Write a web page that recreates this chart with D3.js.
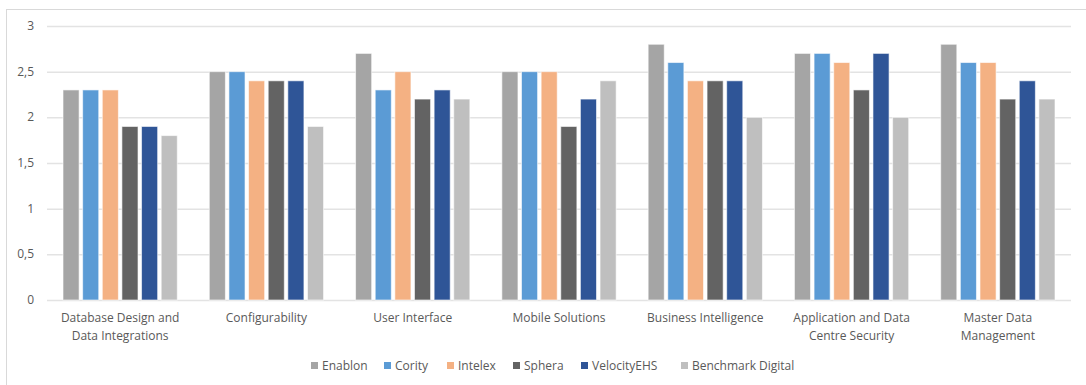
<!DOCTYPE html>
<html lang="en">
<head>
<meta charset="utf-8">
<title>EHS vendor scores</title>
<script src="https://d3js.org/d3.v7.min.js"></script>
<style>
    body { margin: 0; background: #fff; font-family: 'Open Sans', sans-serif; }
    svg text { fill: #595959; font-size: 12px; }
</style>
</head>
<body>
<div id="chart"></div>
<script>
// categories and series
var categories = [
    ["Database Design and", "Data Integrations"],
    ["Configurability"],
    ["User Interface"],
    ["Mobile Solutions"],
    ["Business Intelligence"],
    ["Application and Data", "Centre Security"],
    ["Master Data", "Management"]
];
var seriesNames = ["Enablon", "Cority", "Intelex", "Sphera", "VelocityEHS", "Benchmark Digital"];
var seriesColors = ["#a5a5a5", "#5b9bd5", "#f4b183", "#636363", "#2f5597", "#bfbfbf"];

var enablon    = [2.3, 2.5, 2.7, 2.5, 2.8, 2.7, 2.8];
var cority     = [2.3, 2.5, 2.3, 2.5, 2.6, 2.7, 2.6];
var intelex    = [2.3, 2.4, 2.5, 2.5, 2.4, 2.6, 2.6];
var sphera     = [1.9, 2.4, 2.2, 1.9, 2.4, 2.3, 2.2];
var velocity   = [1.9, 2.4, 2.3, 2.2, 2.4, 2.7, 2.4];
var benchmark  = [1.8, 1.9, 2.2, 2.4, 2.0, 2.0, 2.2];
var seriesValues = [enablon, cority, intelex, sphera, velocity, benchmark];

var yTicks = [0, 0.5, 1, 1.5, 2, 2.5, 3];

var W = 1086, H = 385;
var plot = {left: 47, right: 1071, top: 26, bottom: 300};

var svg = d3.select("#chart").append("svg")
    .attr("width", W).attr("height", H);

// outer chart border
svg.append("rect")
    .attr("x", 6.5).attr("y", 9.5)
    .attr("width", W).attr("height", H)
    .attr("fill", "none").attr("stroke", "#d9d9d9");

var y = d3.scaleLinear().domain([0, 3]).range([plot.bottom, plot.top]);

var x0 = d3.scaleBand()
    .domain(d3.range(categories.length))
    .range([plot.left, plot.right]);

var x1 = d3.scaleBand()
    .domain(d3.range(seriesNames.length))
    .range([16, x0.bandwidth() - 16])
    .paddingInner(0.18);

// gridlines
svg.append("g").selectAll("line")
    .data(yTicks)
    .enter().append("line")
    .attr("x1", plot.left).attr("x2", plot.right)
    .attr("y1", function(d) { return y(d) + 0.5; })
    .attr("y2", function(d) { return y(d) + 0.5; })
    .attr("stroke", "#e3e3e3")
    .attr("stroke-width", 1.5);

// y tick labels
svg.append("g").selectAll("text")
    .data(yTicks)
    .enter().append("text")
    .attr("x", 34)
    .attr("y", function(d) { return y(d) + 4; })
    .attr("text-anchor", "end")
    .text(function(d) { return String(d).replace(".", ","); });

// bars
var groups = svg.append("g").selectAll("g")
    .data(categories)
    .enter().append("g")
    .attr("transform", function(d, i) { return "translate(" + x0(i) + ",0)"; });

groups.selectAll("rect")
    .data(function(d, i) { return seriesValues.map(function(s, k) { return {k: k, v: s[i]}; }); })
    .enter().append("rect")
    .attr("x", function(d) { return x1(d.k); })
    .attr("y", function(d) { return y(d.v); })
    .attr("width", x1.bandwidth())
    .attr("height", function(d) { return y(0) - y(d.v); })
    .attr("fill", function(d) { return seriesColors[d.k]; })
    .attr("stroke", "#fff")
    .attr("stroke-opacity", 0.6)
    .attr("stroke-width", 1);

// category labels
groups.append("text")
    .attr("text-anchor", "middle")
    .attr("x", x0.bandwidth() / 2)
    .attr("y", 322)
    .selectAll("tspan")
    .data(function(d) { return d; })
    .enter().append("tspan")
    .attr("x", x0.bandwidth() / 2)
    .attr("dy", function(d, i) { return i === 0 ? 0 : 18; })
    .text(function(d) { return d; });

// legend
var legendX = [311, 384, 447, 513, 581, 681];
var legend = svg.append("g").selectAll("g")
    .data(seriesNames)
    .enter().append("g")
    .attr("transform", function(d, i) { return "translate(" + legendX[i] + ",362)"; });

legend.append("rect")
    .attr("width", 7).attr("height", 7)
    .attr("fill", function(d, i) { return seriesColors[i]; });

legend.append("text")
    .attr("x", 11).attr("y", 8)
    .text(function(d) { return d; });
</script>
</body>
</html>
